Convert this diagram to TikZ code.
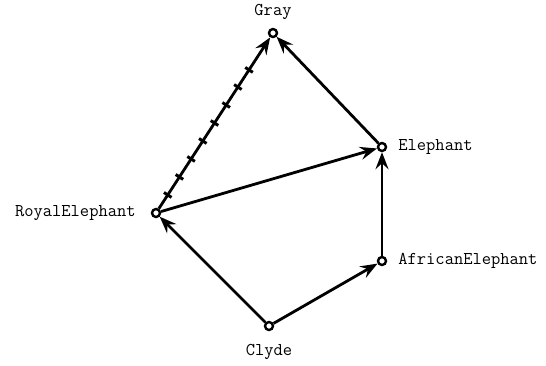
\documentclass[tikz,border=0pt]{standalone}
\usetikzlibrary{arrows.meta,positioning}
\tikzset{
  pt/.style={draw,circle,line width=2.4pt,minimum size=8pt,inner sep=0pt},
  lbl/.style={font=\fontsize{18}{20}\selectfont\ttfamily,inner sep=0pt},
  isa/.style={line width=2.8pt,-{Stealth[length=17pt,width=13pt,inset=6pt]}},
  tick/.style={fill,rectangle,sloped,minimum width=3pt,minimum height=9pt,inner sep=0pt}
}
\begin{document}
\begin{tikzpicture}[x=1pt,y=-1pt]
\useasboundingbox (0,0) rectangle (546,365);
\node[pt] (gray) at (273,33) {};
\node[pt] (eleph) at (382,147) {};
\node[pt] (royal) at (156,213) {};
\node[pt] (afric) at (382,261) {};
\node[pt] (clyde) at (269,326) {};
\node[lbl,above=8pt of gray] (grayl) {Gray};
\node[lbl,right=11pt of eleph] (elephl) {Elephant};
\node[lbl,left=15pt of royal] (royall) {RoyalElephant};
\node[lbl,right=11pt of afric] (africl) {AfricanElephant};
\node[lbl,below=13pt of clyde] (clydel) {Clyde};
\draw[isa] (royal)--(gray);
\path (royal)--(gray) foreach \p in {0.08,0.185,0.29,0.395,0.5,0.605,0.71,0.81}{node[tick,pos=\p]{}};
\draw[isa] (eleph)--(gray);
\draw[isa] (royal)--(eleph);
\draw[isa] (afric)--(eleph);
\draw[isa] (clyde)--(royal);
\draw[isa] (clyde)--(afric);
\end{tikzpicture}
\end{document}
